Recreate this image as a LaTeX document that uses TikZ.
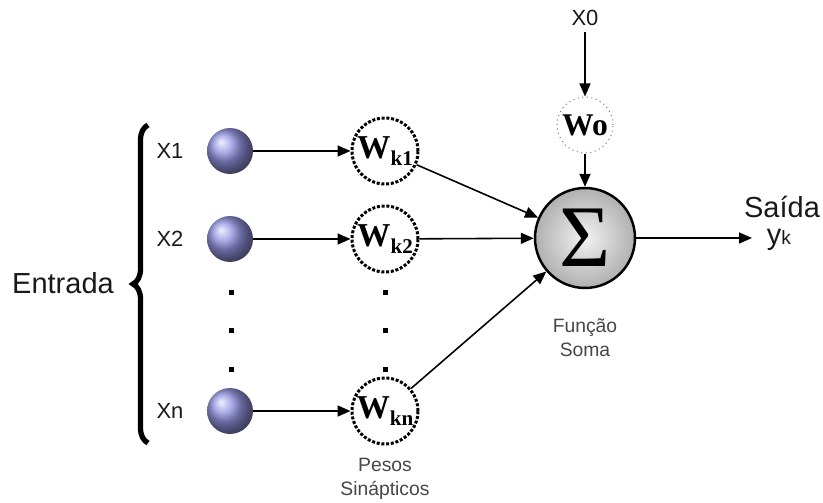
\documentclass[tikz,border=0pt]{standalone}
\usepackage{fontspec}
\setmainfont{Liberation Serif}
\setsansfont{Liberation Sans}
\usetikzlibrary{arrows.meta,decorations.pathreplacing}
\definecolor{esferaazul}{RGB}{150,150,228}
\definecolor{textoescuro}{RGB}{25,25,25}
\definecolor{textocinza}{RGB}{70,70,70}
\newcommand{\peso}[1]{\textbf{W}\raisebox{-0.45ex}{\fontsize{12}{12}\selectfont\textbf{#1}}}

\begin{document}
\begin{tikzpicture}[x=0.02cm,y=-0.02cm,>={Triangle[length=2.6mm,width=2.2mm]},
  esfera/.style={circle,shading=ball,ball color=esferaazul,minimum size=0.92cm,inner sep=0pt},
  pesocirc/.style={circle,draw,densely dotted,line width=1.7pt,minimum size=1.32cm,inner sep=0pt,font=\fontsize{19}{19}\selectfont},
  rotulo/.style={font=\sffamily\fontsize{12.5}{14}\selectfont,text=textoescuro},
  grande/.style={font=\sffamily\fontsize{16.5}{18}\selectfont,text=textoescuro},
  legenda/.style={font=\sffamily\fontsize{11}{13.5}\selectfont,text=textocinza,align=center},
  ponto/.style={fill=black,minimum size=0.1cm,inner sep=0pt},
  seta/.style={->,line width=0.9pt}]
  \useasboundingbox (0,0) rectangle (823,503);
  % Entradas
  \node[esfera] (e1) at (230,151) {};
  \node[esfera] (e2) at (230,239) {};
  \node[esfera] (en) at (230,411) {};
  \node[rotulo] (x1) at (170,151) {X1};
  \node[rotulo] (x2) at (170,239) {X2};
  \node[rotulo] (xn) at (170,411) {Xn};
  % Pesos sinapticos
  \node[pesocirc] (w1) at (385,151) {\peso{k1}};
  \node[pesocirc] (w2) at (385,239) {\peso{k2}};
  \node[pesocirc] (wn) at (385,411) {\peso{kn}};
  \foreach \y [count=\i] in {293,331,370} {
    \node[ponto] (pe\i) at (231,\y) {};
    \node[ponto] (pw\i) at (385,\y) {};
  }
  % Somador
  \node[circle,draw,line width=1.4pt,shading=radial,inner color=gray!10,outer color=gray!62,
    minimum size=2cm,inner sep=0pt,font=\fontsize{50}{50}\selectfont] (soma) at (585,238) {Σ};
  \node[circle,draw=gray,dotted,line width=0.6pt,minimum size=1.12cm,inner sep=0pt,
    font=\fontsize{18}{18}\selectfont] (w0) at (585,125) {\textbf{Wo}};
  \node[rotulo] (x0) at (585,18) {X0};
  \coordinate (saida) at (752,238);
  % Ligacoes
  \draw[seta] (e1) -- (w1);
  \draw[seta] (e2) -- (w2);
  \draw[seta] (en) -- (wn);
  \draw[seta] (w1) -- (soma);
  \draw[seta] (w2) -- (soma);
  \draw[seta] (wn) -- (soma);
  \draw[seta] (x0) -- (w0);
  \draw[seta] (w0) -- (soma);
  \draw[seta] (soma) -- (saida);
  % Textos
  \node[grande] (sai) at (782,207) {Saída};
  \node[grande] (yk) at (779,240) {y{\fontsize{11}{11}\selectfont k}};
  \node[legenda] (fsoma) at (585,338) {Função\\Soma};
  \node[legenda] (psin) at (385,479) {Pesos\\Sinápticos};
  \node[grande] (entrada) at (63,283) {Entrada};
  \draw[decorate,decoration={brace,amplitude=0.3cm},line width=3pt] (148,443) -- (148,125);
\end{tikzpicture}
\end{document}
